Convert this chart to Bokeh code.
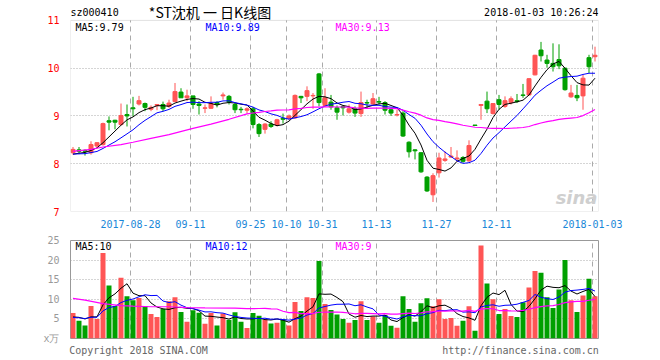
import numpy as np
import pandas as pd
from bokeh.plotting import figure
from bokeh.layouts import column
from bokeh.models import (Range1d, FixedTicker, Label, ColumnDataSource, LinearAxis,
                          BoxAnnotation)
from bokeh.embed import file_html
from bokeh.resources import INLINE

# ---------------- data ----------------
stock_code = "sz000410"
title_text = "*ST沈机 一 日K线图"
time_stamp = "2018-01-03 10:26:24"
copyright_text = "Copyright 2018 SINA.COM"
url_text = "http://finance.sina.com.cn"

open_price = [8.23, 8.29, 8.28, 8.23, 8.37, 8.40, 8.90, 8.91, 8.82, 9.03,
              9.17, 9.25, 9.26, 9.14, 9.22, 9.24, 9.20, 9.30, 9.50, 9.38,
              9.42, 9.25, 9.16, 9.16, 9.28, 9.42, 9.41, 9.24, 9.14, 9.12,
              9.15, 8.82, 8.72, 8.83, 8.81, 8.95, 8.95, 8.96, 9.41, 9.41,
              9.42, 9.88, 9.22, 9.29, 9.17, 9.20, 9.08, 9.15, 9.05, 9.28,
              9.25, 9.30, 9.28, 9.13, 9.02, 9.06, 8.45, 8.29, 8.23, 7.72,
              7.35, 7.81, 8.07, 8.14, 8.10, 8.13, 8.06, 8.81, 9.22, 9.31,
              9.05, 9.34, 9.20, 9.28, 9.32, 9.44, 9.44, 9.86, 10.38, 10.17,
              10.10, 10.18, 10.00, 9.40, 9.43, 9.42, 10.22, 10.24]
high_price = [8.35, 8.35, 8.30, 8.47, 8.45, 8.86, 8.99, 8.92, 9.26, 9.24,
              9.40, 9.42, 9.28, 9.22, 9.25, 9.30, 9.34, 9.69, 9.58, 9.55,
              9.42, 9.31, 9.24, 9.41, 9.31, 9.49, 9.44, 9.27, 9.19, 9.18,
              9.19, 8.85, 8.85, 8.89, 8.94, 9.05, 9.03, 9.45, 9.42, 9.62,
              9.48, 9.90, 9.58, 9.44, 9.22, 9.22, 9.24, 9.20, 9.51, 9.34,
              9.48, 9.40, 9.31, 9.17, 9.13, 9.10, 8.47, 8.30, 8.24, 7.74,
              7.80, 8.23, 8.26, 8.35, 8.28, 8.16, 8.49, 8.81, 9.24, 9.51,
              9.27, 9.44, 9.41, 9.41, 9.46, 9.67, 9.79, 10.28, 10.55, 10.28,
              10.52, 10.50, 10.01, 9.65, 9.65, 9.86, 10.28, 10.45]
low_price = [8.19, 8.20, 8.17, 8.19, 8.34, 8.38, 8.70, 8.72, 8.80, 8.78,
             8.99, 9.22, 9.10, 9.10, 9.12, 9.10, 9.17, 9.29, 9.38, 9.31,
             9.15, 9.03, 9.06, 9.15, 9.18, 9.34, 9.24, 9.06, 9.06, 9.05,
             8.74, 8.56, 8.63, 8.75, 8.78, 8.84, 8.92, 8.94, 9.27, 9.31,
             9.15, 9.20, 9.20, 9.13, 8.92, 9.01, 9.05, 8.98, 8.98, 9.15,
             9.22, 9.24, 9.03, 9.00, 8.99, 8.56, 8.13, 8.09, 7.81, 7.41,
             7.20, 7.71, 8.04, 8.12, 8.04, 8.02, 8.04, 8.80, 8.92, 9.06,
             9.03, 9.13, 9.17, 9.24, 9.27, 9.38, 9.43, 9.85, 10.14, 10.01,
             9.93, 9.98, 9.53, 9.38, 9.31, 9.13, 9.90, 10.14]
close_price = [8.30, 8.26, 8.26, 8.40, 8.44, 8.84, 8.87, 8.87, 9.01, 9.00,
               9.15, 9.32, 9.18, 9.18, 9.24, 9.15, 9.27, 9.51, 9.38, 9.42,
               9.24, 9.22, 9.17, 9.26, 9.24, 9.44, 9.29, 9.13, 9.13, 9.15,
               8.82, 8.63, 8.83, 8.78, 8.92, 8.93, 9.00, 9.43, 9.38, 9.53,
               9.43, 9.28, 9.38, 9.19, 9.08, 9.17, 9.15, 9.06, 9.28, 9.27,
               9.36, 9.29, 9.12, 9.06, 9.03, 8.58, 8.25, 8.27, 7.83, 7.43,
               7.75, 8.12, 8.10, 8.16, 8.12, 8.05, 8.38, 8.80, 9.24, 9.15,
               9.26, 9.24, 9.32, 9.36, 9.30, 9.43, 9.78, 10.27, 10.26, 10.10,
               10.03, 10.05, 9.55, 9.48, 9.38, 9.79, 10.03, 10.27]
volume = [6.5, 4.5, 3.3, 8.3, 5.0, 21.8, 13.5, 8.3, 15.5, 10.75,
          9.75, 10.3, 8.3, 6.25, 5.5, 7.5, 9.5, 10.5, 6.75, 4.25,
          7.2, 6.6, 3.75, 6.5, 3.3, 6.4, 4.8, 6.7, 4.3, 2.7,
          6.5, 5.8, 4.8, 3.8, 4.0, 4.9, 3.3, 9.3, 7.0, 10.5,
          10.3, 19.8, 8.8, 7.3, 6.1, 5.0, 4.0, 4.75, 9.5, 4.75,
          5.6, 4.0, 6.0, 3.25, 2.75, 10.75, 7.5, 4.25, 9.0, 10.25,
          8.25, 10.0, 5.0, 5.25, 3.25, 4.5, 8.25, 2.0, 23.75, 14.0,
          10.0, 6.25, 7.5, 5.75, 5.5, 9.25, 13.0, 17.25, 16.75, 10.5,
          7.75, 12.5, 20.0, 9.75, 6.75, 11.0, 15.25, 10.75]

# sessions just before the visible window (estimated, only feed the moving averages)
close_before = [8.20, 8.22, 8.18, 8.20, 8.21, 8.16, 8.18, 8.19, 8.17]
volume_before = [5.0, 5.5, 4.8, 5.2, 5.5, 5.0, 5.4, 5.6, 5.0]

# MA30 over the first sessions (needs history not shown)
ma30_early_idx = [0, 3, 5, 8, 10, 13, 16, 20, 23, 26]
ma30_early = [8.26, 8.30, 8.35, 8.40, 8.45, 8.53, 8.61, 8.74, 8.83, 8.93]
vol_ma30_early_idx = [0, 2, 5, 8, 10, 13, 16, 19, 22, 27]
vol_ma30_early = [10.25, 9.8, 8.9, 8.4, 8.25, 8.1, 8.1, 7.9, 7.8, 7.75]

date_idx = [10, 20, 30, 36, 42, 51, 61, 71, 87]
date_labels = ["2017-08-28", "09-11", "09-25", "10-10", "10-31",
               "11-13", "11-27", "12-11", "2018-01-03"]
price_ticks = [7, 8, 9, 10, 11]
vol_ticks = [0, 5, 10, 15, 20, 25]
vol_unit_label = "x万"

# ---------------- styles ----------------
RED = "#ff5555"
GREEN = "#00a000"
MONO = "DejaVu Sans Mono"
CJK = "Noto Sans CJK SC"
GRID = "#aaaaaa"
BORDER = "#999999"

n = len(close_price)
xc = np.arange(n) + 5.0 / 12.0
is_up = [c > o for o, c in zip(open_price, close_price)]
colors = [RED if u else GREEN for u in is_up]

cs = pd.Series(close_before + close_price)
ma5 = cs.rolling(5).mean().to_numpy()[-n:]
ma10 = cs.rolling(10).mean().to_numpy()[-n:]
ma30 = pd.Series(close_price).rolling(30).mean().to_numpy()
ma30_x = list(np.array(ma30_early_idx) + 5.0 / 12.0) + list(xc[29:])
ma30_y = list(ma30_early) + list(ma30[29:])

vs = pd.Series(volume_before + volume)
vma5 = vs.rolling(5).mean().to_numpy()[-n:]
vma10 = vs.rolling(10).mean().to_numpy()[-n:]
vma30 = pd.Series(volume).rolling(30).mean().to_numpy()
vma30_x = list(np.array(vol_ma30_early_idx) + 5.0 / 12.0) + list(xc[29:])
vma30_y = list(vol_ma30_early) + list(vma30[29:])

src = ColumnDataSource(dict(
    x=xc,
    top=np.maximum(open_price, close_price),
    bottom=np.minimum(open_price, close_price),
    high=high_price, low=low_price, vol=volume, color=colors))

W = 660
BL, BR = 70, 62
HA, HB = 230, 128
PX_PER_UNIT = 48.0            # price panel: pixels per 1.00 of price
HEADER_PX = 20                # strip above the price box that holds the header texts
p_lo, p_hi = price_ticks[0], price_ticks[-1]


def dx(px):
    return (px - 70) / 6.0


def dyA(py):
    return p_hi - (py - HEADER_PX) / PX_PER_UNIT


def dyB(py):
    return 25 - (py - 240) / 4.0


def axis_style(p, ticks, label_color, show_x):
    p.background_fill_color = "white"
    p.border_fill_color = "white"
    p.xaxis.ticker = FixedTicker(ticks=date_idx)
    p.xaxis.major_label_overrides = {i: s for i, s in zip(date_idx, date_labels)}
    p.xaxis.axis_line_color = None
    p.xaxis.major_tick_line_color = None
    p.xaxis.minor_tick_line_color = None
    p.xaxis.major_label_text_color = "#1a87d8"
    p.xaxis.major_label_text_font = MONO
    p.xaxis.major_label_text_font_size = "10px"
    p.xaxis.major_label_standoff = 2
    p.xaxis.visible = show_x
    p.yaxis.ticker = FixedTicker(ticks=ticks)
    p.yaxis.axis_line_color = None
    p.yaxis.major_tick_line_color = None
    p.yaxis.minor_tick_line_color = None
    p.yaxis.major_label_text_color = label_color
    p.yaxis.major_label_text_font = MONO
    p.yaxis.major_label_text_font_size = "10px"
    p.yaxis.major_label_standoff = 5
    p.ygrid.ticker = FixedTicker(ticks=ticks[1:-1])
    p.ygrid.grid_line_color = GRID
    p.ygrid.grid_line_dash = "1 2"


def label(p, x, y, text, color="black", align="left", size="10px", font=MONO, **kw):
    p.add_layout(Label(x=x, y=y, text=text, text_color=color, text_align=align,
                       text_baseline="middle", text_font=font,
                       text_font_size=size, **kw))


# ---------------- price panel (frame extends up over the header strip) ----------------
pa = figure(width=W, height=HA, x_range=Range1d(0, n),
            y_range=Range1d(p_lo, p_hi + HEADER_PX / PX_PER_UNIT),
            output_backend="svg", toolbar_location=None, title=None,
            min_border_left=BL, min_border_right=BR,
            min_border_top=0, min_border_bottom=18)
axis_style(pa, price_ticks, "#ff0000", True)
pa.outline_line_color = None
pa.xgrid.visible = False
# vertical dashed grid lines only inside the price box
pa.segment(x0=date_idx, y0=[p_lo] * len(date_idx), x1=date_idx, y1=[p_hi] * len(date_idx),
           line_color=GRID, line_dash="5 4", line_width=1, level="underlay")
pa.add_layout(BoxAnnotation(left=0, right=n, bottom=p_lo, top=p_hi, fill_alpha=0,
                            line_color=BORDER, line_width=1))

label(pa, dx(597), dyA(198), "sina", color="#cfcfcf", align="right",
      size="18px", font="DejaVu Sans", text_font_style="bold italic", level="underlay")

pa.segment(x0="x", y0="low", x1="x", y1="high", color="color", line_width=1, source=src)
pa.vbar(x="x", width=4.0 / 6.0, top="top", bottom="bottom", fill_color="color",
        line_color="color", line_width=1, source=src)
pa.line(xc, ma5, color="black", line_width=1)
pa.line(xc, ma10, color="#0000ff", line_width=1)
pa.line(ma30_x, ma30_y, color="#ff00ff", line_width=1.2)

label(pa, dx(70), dyA(12.5), stock_code)
label(pa, dx(209.5), dyA(12), title_text, align="center", size="14px", font=CJK)
label(pa, dx(598), dyA(12.5), time_stamp, align="right")
label(pa, dx(75), dyA(27), "MA5:%.2f" % ma5[-1])
label(pa, dx(205), dyA(27), "MA10:%.2f" % ma10[-1], color="#0000ff")
label(pa, dx(335), dyA(27), "MA30:%.2f" % ma30_y[-1], color="#ff00ff")

# ---------------- volume panel ----------------
pb = figure(width=W, height=HB, x_range=pa.x_range, y_range=Range1d(0, 25),
            output_backend="svg", toolbar_location=None, title=None,
            min_border_left=BL, min_border_right=BR,
            min_border_top=10, min_border_bottom=18)
axis_style(pb, vol_ticks, "#999999", False)
pb.outline_line_color = BORDER
pb.outline_line_width = 1
pb.xgrid.ticker = FixedTicker(ticks=date_idx)
pb.xgrid.grid_line_color = GRID
pb.xgrid.grid_line_dash = "5 4"
pb.yaxis.major_label_overrides = {0: vol_unit_label}

pb.vbar(x="x", width=5.0 / 6.0, top="vol", bottom=0, fill_color="color",
        line_color=None, source=src)
pb.line(xc, vma5, color="black", line_width=1)
pb.line(xc, vma10, color="#0000ff", line_width=1)
pb.line(vma30_x, vma30_y, color="#ff00ff", line_width=1.2)

label(pb, dx(75), dyB(246.5), "MA5:%d" % int(vma5[-1]))
label(pb, dx(205), dyB(246.5), "MA10:%d" % int(vma10[-1]), color="#0000ff")
label(pb, dx(335), dyB(246.5), "MA30:%d" % int(vma30_y[-1]), color="#ff00ff")

# footer texts carried by a bottom axis laid out in page pixels
pb.extra_x_ranges = {"page_px": Range1d(70, 598)}
foot = LinearAxis(x_range_name="page_px", ticker=FixedTicker(ticks=[138, 520]),
                  major_label_overrides={138: copyright_text, 520: url_text})
foot.axis_line_color = None
foot.major_tick_line_color = None
foot.minor_tick_line_color = None
foot.major_label_standoff = 0
foot.major_label_text_color = "#666666"
foot.major_label_text_font = MONO
foot.major_label_text_font_size = "10px"
pb.add_layout(foot, "below")

layout = column(pa, pb, spacing=0)
open("out.html", "w").write(file_html(layout, INLINE))
